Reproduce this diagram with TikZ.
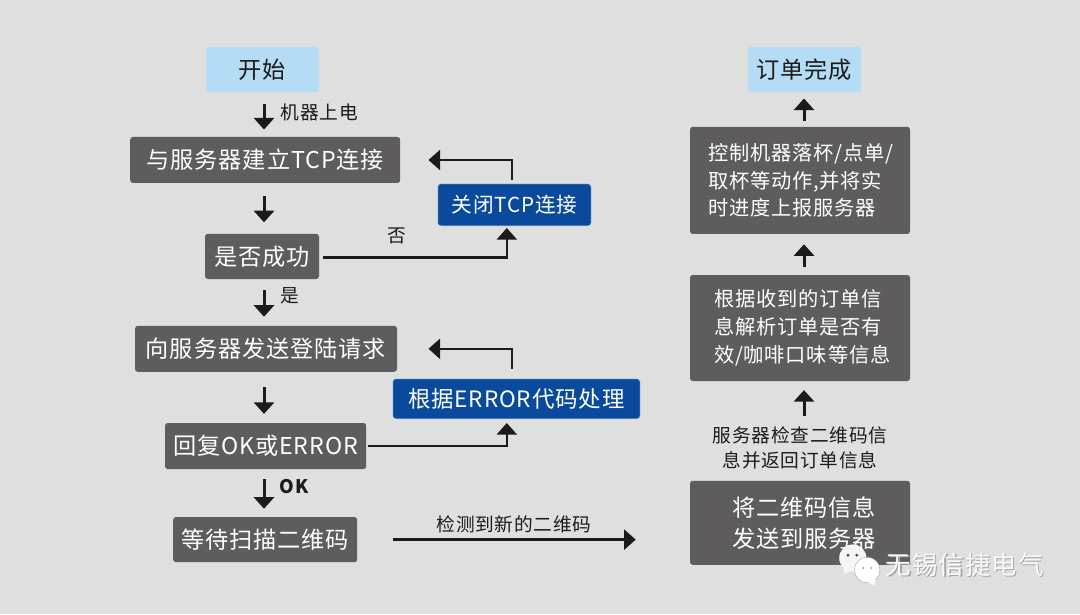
\documentclass[tikz,border=0pt]{standalone}
\usepackage{fontspec}
\setmainfont{Noto Sans CJK SC}[LetterSpace=4]
\usetikzlibrary{arrows.meta}
\definecolor{pagegray}{HTML}{E0DFDF}
\definecolor{boxgray}{HTML}{5E5C5C}
\definecolor{boxblue}{HTML}{0A4A9C}
\definecolor{boxsky}{HTML}{B4DCF4}
\definecolor{inkblack}{HTML}{1C1A1A}
\newcommand{\bigtext}{\fontsize{16.5}{22}\selectfont}
\newcommand{\midtext}{\fontsize{14.4}{19.8}\selectfont}
\newcommand{\smalltext}{\fontsize{13.3}{17.8}\selectfont}
\tikzset{
  graybox/.style={rounded corners=0.07cm,fill=boxgray,text=white,font=\bigtext,inner sep=0pt},
  bluebox/.style={graybox,fill=boxblue,draw=boxsky,line width=0.3pt},
  skybox/.style={graybox,fill=boxsky,text=inkblack},
  notebox/.style={graybox,font=\midtext,align=left,text width=#1},
  smalllabel/.style={font=\smalltext,text=inkblack,inner sep=0pt,align=center},
  flowline/.style={draw=inkblack,line width=0.075cm,-{Triangle[width=0.5cm,length=0.29cm]}},
  sideline/.style={flowline,line width=0.06cm}
}
\begin{document}
\begin{tikzpicture}
    \fill[pagegray] (0,0) rectangle (27,15.35);
    \useasboundingbox (0,0) rectangle (27,15.35);
    \coordinate (leftaxis) at (6.6,0);
    \coordinate (rightaxis) at (20.1,0);

    \node[skybox,minimum width=2.83cm,minimum height=1.13cm] (start) at (6.56,13.61) {开始};
    \node[graybox,minimum width=6.75cm,minimum height=1.15cm] (tcp) at (6.63,11.35) {与服务器建立TCP连接};
    \node[graybox,minimum width=2.85cm,minimum height=1.13cm] (okq) at (6.55,8.94) {是否成功};
    \node[graybox,minimum width=6.55cm,minimum height=1.15cm] (login) at (6.65,6.63) {向服务器发送登陆请求};
    \node[graybox,minimum width=5.03cm,minimum height=1.15cm] (reply) at (6.64,4.2) {回复OK或ERROR};
    \node[graybox,minimum width=4.6cm,minimum height=1.13cm] (wait) at (6.63,1.86) {等待扫描二维码};
    \node[bluebox,font=\fontsize{14.7}{20}\selectfont,minimum width=3.83cm,minimum height=1.05cm] (closetcp) at (12.86,10.23) {关闭TCP连接};
    \node[bluebox,font=\fontsize{16}{20}\selectfont,minimum width=6.18cm,minimum height=1cm] (errproc) at (12.91,5.38) {根据ERROR代码处理};
    \node[skybox,minimum width=2.83cm,minimum height=1.13cm] (finish) at (20.11,13.61) {订单完成};
    \node[notebox=4.6cm,inner xsep=0.45cm,minimum width=5.5cm,minimum height=2.68cm] (ctrl) at (20,10.84)
      {控制机器落杯/点单/\\取杯等动作,并将实\\时进度上报服务器};
    \node[notebox=4.3cm,inner xsep=0.6cm,minimum width=5.5cm,minimum height=2.65cm] (parse) at (20,7.15)
      {根据收到的订单信\\息解析订单是否有\\效/咖啡口味等信息};
    \node[notebox=3.4cm,inner xsep=1.05cm,font=\bigtext,minimum width=5.5cm,minimum height=2.1cm] (send) at (20,2.28)
      {将二维码信息\\发送到服务器};

    \node[smalllabel] (powerlabel) at (7.98,12.53) {机器上电};
    \node[smalllabel] (nolabel) at (9.93,9.45) {否};
    \node[smalllabel] (yeslabel) at (7.25,7.95) {是};
    \node[smalllabel,font=\smalltext\bfseries] (oklabel) at (7.35,3.18) {OK};
    \node[smalllabel] (scanlabel) at (12.85,2.23) {检测到新的二维码};
    \node[smalllabel] (checklabel) at (20,4.16) {服务器检查二维码信\\息并返回订单信息};

    \draw[flowline,shorten <=0.28cm,shorten >=0.18cm] (start.south -| leftaxis) -- (tcp.north -| leftaxis);
    \draw[flowline,shorten <=0.33cm,shorten >=0.28cm] (tcp.south -| leftaxis) -- (okq.north -| leftaxis);
    \draw[flowline,shorten <=0.28cm,shorten >=0.22cm] (okq.south -| leftaxis) -- (login.north -| leftaxis);
    \draw[flowline,shorten <=0.38cm,shorten >=0.22cm] (login.south -| leftaxis) -- (reply.north -| leftaxis);
    \draw[flowline,shorten <=0.25cm,shorten >=0.2cm] (reply.south -| leftaxis) -- (wait.north -| leftaxis);
    \draw[sideline,shorten <=0.9cm,shorten >=1.35cm] (wait.east) -- (send.west |- wait.east);
    \draw[flowline,shorten <=0.25cm,shorten >=0.22cm] (checklabel.north -| rightaxis) -- (parse.south -| rightaxis);
    \draw[flowline,shorten <=0.2cm,shorten >=0.25cm] (parse.north -| rightaxis) -- (ctrl.south -| rightaxis);
    \draw[flowline,shorten <=0.13cm,shorten >=0.15cm] (ctrl.north -| rightaxis) -- (finish.south -| rightaxis);

    \draw[sideline,shorten <=0.1cm,shorten >=0.05cm] ([yshift=-0.03cm]okq.east) -| ([xshift=-0.19cm]closetcp.south);
    \draw[sideline,shorten <=0.05cm,shorten >=0.7cm] ([xshift=-0.06cm,yshift=0.05cm]closetcp.north) |- (tcp.east);
    \draw[sideline,shorten <=0.03cm,shorten >=0.1cm] (reply.east) -| ([xshift=-0.24cm]errproc.south);
    \draw[sideline,shorten <=0.25cm,shorten >=0.78cm] ([xshift=-0.11cm]errproc.north) |- (login.east);

    \fill[white!92!gray] (21.32,1.4) circle (0.34cm);
    \fill[white!92!gray] (21.1,1.0) -- (21.1,1.3) -- (21.35,1.1) -- cycle;
    \fill[white] (21.68,1.1) circle (0.32cm);
    \draw[gray!70,line width=0.3pt] (21.68,1.1) circle (0.32cm);
    \fill[white] (21.85,0.72) -- (21.6,0.85) -- (21.9,0.85) -- cycle;
    \fill[gray!60!black] (21.2,1.47) circle (0.04cm) (21.42,1.47) circle (0.04cm);
    \fill[gray!70] (21.58,1.15) circle (0.03cm) (21.78,1.15) circle (0.03cm);
    \node[font=\fontsize{18.1}{22}\selectfont,text=gray!70,inner sep=0pt] (marklabelshadow) at (24.15,1.2) {无锡信捷电气};
    \node[font=\fontsize{18.1}{22}\selectfont,text=white!96!gray,inner sep=0pt] (marklabel) at (24.12,1.23) {无锡信捷电气};
  \end{tikzpicture}
\end{document}
